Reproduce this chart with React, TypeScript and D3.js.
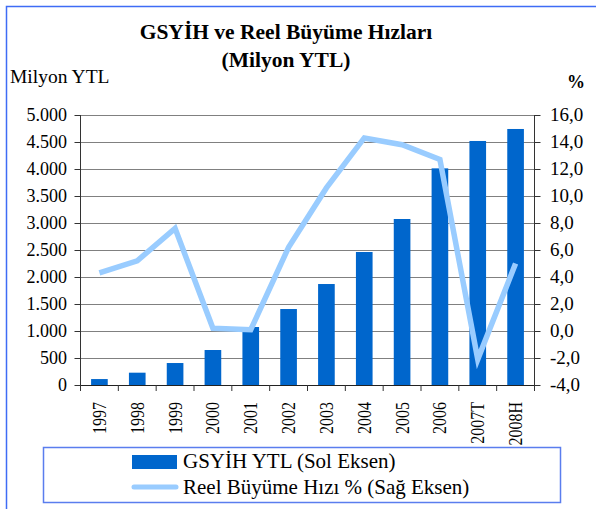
import * as d3 from 'd3';

const years = ['1997', '1998', '1999', '2000', '2001', '2002', '2003', '2004', '2005', '2006', '2007T', '2008H'];
const gdp = [110, 228, 407, 648, 1074, 1407, 1870, 2463, 3074, 4012, 4519, 4741];
const growth = [4.3, 5.2, 7.6, 0.2, 0.1, 6.2, 10.6, 14.3, 13.8, 12.7, -2.1, 5.0];
const leftTicks = d3.range(0, 5001, 500);
const rightTicks = d3.range(-4, 16.1, 2);

const W = 596;
const H = 509;
const plot = { left: 80.5, right: 534.5, top: 115, bottom: 385 };
const serif = "'Liberation Serif', 'Times New Roman', Tinos, 'DejaVu Serif', serif";
const barColor = '#0066CC';
const lineColor = '#99CCFF';
const frameColor = '#3F6CF5';

const fmtLeft = (v: number) => d3.format(',')(v).replace(/,/g, '.');
const fmtRight = (v: number) => v.toFixed(1).replace('.', ',');

export default function App() {
  const x = d3
    .scaleBand<string>()
    .domain(years)
    .range([plot.left, plot.right])
    .paddingInner(0.56)
    .paddingOuter(0.28);
  const step = x.step();
  const yL = d3.scaleLinear().domain([0, 5000]).range([plot.bottom, plot.top]);
  const yR = d3.scaleLinear().domain([-4, 16]).range([plot.bottom, plot.top]);

  const line = d3
    .line<number>()
    .x((_, i) => (x(years[i]) ?? 0) + x.bandwidth() / 2)
    .y((d) => yR(d));

  const boundaries = d3.range(years.length + 1).map((i) => plot.left + i * step);

  return (
    <div style={{ position: 'fixed', left: 0, top: 0 }}>
      <svg width={W} height={H} style={{ display: 'block', background: '#fff', fontFamily: serif }}>
        {/* outer frame */}
        <path d={`M6.5,${H} V6.5 H${W}`} fill="none" stroke={frameColor} strokeWidth={1.5} />

        <text x={286} y={39} textAnchor="middle" fontSize={21.5} fontWeight="bold">
          GSYİH ve Reel Büyüme Hızları
        </text>
        <text x={286} y={67} textAnchor="middle" fontSize={21.5} fontWeight="bold">
          (Milyon YTL)
        </text>
        <text x={10} y={83} fontSize={19.5}>
          Milyon YTL
        </text>
        <text x={567} y={88} fontSize={18} fontWeight="bold">
          %
        </text>

        {/* grid */}
        {leftTicks.map((t) => (
          <line key={t} x1={plot.left} x2={plot.right} y1={yL(t) + 0.5} y2={yL(t) + 0.5} stroke="#808080" strokeWidth={1.2} />
        ))}

        {/* bars */}
        {gdp.map((v, i) => (
          <rect
            key={years[i]}
            x={x(years[i])}
            y={yL(v)}
            width={x.bandwidth()}
            height={yL(0) - yL(v)}
            fill={barColor}
          />
        ))}

        {/* axes */}
        <line x1={plot.left} x2={plot.left} y1={plot.top} y2={plot.bottom + 6} stroke="#333" />
        <line x1={plot.right} x2={plot.right} y1={plot.top} y2={plot.bottom + 6} stroke="#333" />
        <line x1={plot.left} x2={plot.right} y1={plot.bottom + 0.5} y2={plot.bottom + 0.5} stroke="#222" />
        {leftTicks.map((t) => (
          <g key={t}>
            <line x1={plot.left - 6} x2={plot.left} y1={yL(t) + 0.5} y2={yL(t) + 0.5} stroke="#333" />
            <text x={67} y={yL(t) + 6} textAnchor="end" fontSize={18}>
              {fmtLeft(t)}
            </text>
          </g>
        ))}
        {rightTicks.map((t) => (
          <g key={t}>
            <line x1={plot.right} x2={plot.right + 6} y1={yR(t) + 0.5} y2={yR(t) + 0.5} stroke="#333" />
            <text x={550} y={yR(t) + 6} fontSize={19}>
              {fmtRight(t)}
            </text>
          </g>
        ))}
        {boundaries.map((bx, i) => (
          <line key={i} x1={bx} x2={bx} y1={plot.bottom} y2={plot.bottom + 6} stroke="#333" />
        ))}
        {years.map((yr) => (
          <text
            key={yr}
            transform={`translate(${(x(yr) ?? 0) + x.bandwidth() / 2 + 6.5},402) rotate(-90) scale(0.84,1)`}
            textAnchor="end"
            fontSize={19}
          >
            {yr}
          </text>
        ))}

        {/* growth line */}
        <path d={line(growth) ?? ''} fill="none" stroke={lineColor} strokeWidth={5.5} strokeLinejoin="miter" />

        {/* legend */}
        <rect x={43.5} y={447.5} width={517} height={55} fill="#fff" stroke="#5A7DEE" strokeWidth={1.5} />
        <rect x={132} y={455} width={45} height={14} fill={barColor} />
        <text x={183} y={468} fontSize={21}>
          GSYİH YTL (Sol Eksen)
        </text>
        <line x1={134} x2={176} y1={487} y2={487} stroke={lineColor} strokeWidth={5} strokeLinecap="round" />
        <text x={183} y={494} fontSize={21}>
          Reel Büyüme Hızı % (Sağ Eksen)
        </text>
      </svg>
    </div>
  );
}
